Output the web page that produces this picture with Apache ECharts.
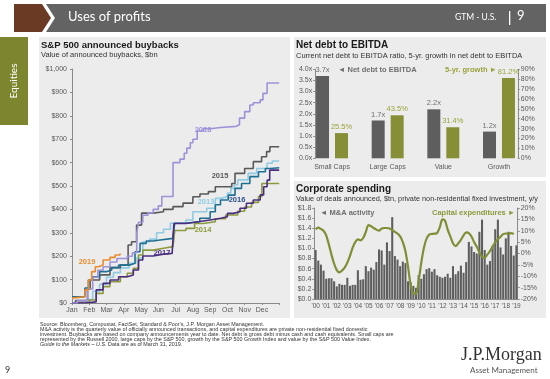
<!DOCTYPE html>
<html><head><meta charset="utf-8">
<script src="https://cdn.jsdelivr.net/npm/echarts@6/dist/echarts.min.js"></script>
<style>html,body{margin:0;padding:0;background:#fff;}#c{width:550px;height:379px;}</style>
</head><body><div id="c"></div>
<script>
// ---------- S&P 500 announced buybacks ($bn, cumulative YTD; x = month fraction) ----------
const months = ['Jan','Feb','Mar','Apr','May','Jun','Jul','Aug','Sep','Oct','Nov','Dec'];
const buyback2013 = [[0,0],[0.9,15],[1.2,50],[1.6,80],[2.0,110],[2.4,130],[2.8,150],[3.3,170],[3.7,192],[4.1,262],[4.5,273],[4.9,300],[5.3,315],[5.7,341],[6.6,355],[7.0,390],[7.8,405],[8.3,447],[8.6,454],[9.0,470],[9.2,490],[9.4,504],[9.6,526],[10.2,554],[10.7,575],[11.3,597],[11.6,607],[12,607]];
const buyback2014 = [[0,0],[1.0,13],[1.4,41],[1.8,70],[2.2,91],[2.8,112],[3.2,127],[3.55,148],[3.85,205],[4.1,226],[4.7,234],[5.3,241],[5.85,248],[5.95,310],[6.6,319],[7.1,340],[7.6,347],[8.3,360],[8.9,376],[9.6,392],[10.0,410],[10.4,430],[10.8,455],[11.0,511],[12,514]];
const buyback2015 = [[0,0],[0.2,10],[0.9,60],[1.05,98],[1.6,120],[2.2,151],[2.8,162],[3.25,248],[3.45,262],[3.74,333],[4.03,384],[4.7,390],[5.3,400],[5.85,412],[6.43,427],[7.0,454],[7.41,466],[7.9,476],[8.3,497],[9.25,511],[9.44,554],[10.0,575],[10.5,604],[10.98,625],[11.27,647],[11.46,668],[12,668]];
const buyback2016 = [[0,27],[0.75,64],[0.95,98],[1.2,112],[1.6,134],[2.0,141],[2.3,151],[2.7,162],[3.35,170],[3.65,219],[3.94,255],[4.3,265],[4.7,269],[5.1,276],[5.85,286],[5.95,341],[6.6,347],[7.4,362],[8.0,390],[8.3,420],[8.6,440],[9.05,461],[9.44,490],[9.82,511],[10.3,540],[10.8,561],[11.2,575],[11.5,578],[12,578]];
const buyback2017 = [[0,0],[0.75,5],[1.4,56],[1.8,84],[2.2,98],[2.7,112],[3.2,120],[3.55,141],[3.85,184],[4.1,201],[4.7,209],[5.3,212],[5.8,219],[5.9,340],[6.6,348],[7.4,355],[8.0,362],[8.6,369],[9.0,383],[9.34,390],[9.73,405],[10.1,426],[10.5,440],[10.9,462],[11.1,497],[11.3,525],[11.45,568],[12,568]];
const buyback2018 = [[0,0],[0.3,10],[0.9,60],[1.2,110],[1.5,140],[1.8,155],[2.2,175],[2.6,190],[3.2,200],[3.5,215],[3.75,300],[3.85,345],[4.1,375],[4.4,385],[4.7,400],[5.0,415],[5.2,455],[5.85,600],[6.25,615],[6.5,640],[6.65,662],[6.85,685],[7.0,700],[7.25,735],[7.6,745],[8.0,750],[8.6,755],[9.5,762],[9.7,790],[10.0,818],[10.3,846],[10.5,856],[10.9,868],[11.06,896],[11.3,940],[12,940]];
const buyback2019 = [[0,21],[0.1,27],[0.75,56],[0.95,98],[1.14,134],[1.35,155],[1.54,162],[1.8,184],[2.2,195],[2.5,205],[2.78,212]];
const buybackYears = ['2013','2014','2015','2016','2017','2018','2019'];

// ---------- Net debt to EBITDA ----------
const debtCategories = ['Small Caps','Large Caps','Value','Growth'];
const netDebtRatio = [3.7, 1.7, 2.2, 1.2];
const debtGrowth5y = [25.5, 43.5, 31.4, 81.2];

// ---------- Corporate spending (quarterly, 2000Q1 - 2019Q1) ----------
const spendYears = ["'00","'01","'02","'03","'04","'05","'06","'07","'08","'09","'10","'11","'12","'13","'14","'15","'16","'17","'18","'19"];
const maActivity = [
 0.97,0.76,0.68,0.56, 0.40,0.41,0.41,0.35, 0.25,0.30,0.28,0.28, 0.42,0.26,0.28,0.28,
 0.57,0.38,0.39,0.65, 0.55,0.62,0.58,0.73, 0.98,0.96,0.68,1.12, 0.95,1.62,0.85,0.78,
 0.65,0.74,0.71,0.35, 0.33,0.26,0.22,0.47, 0.40,0.49,0.59,0.61, 0.54,0.59,0.47,0.44,
 0.42,0.44,0.50,0.42, 0.65,0.49,0.55,0.66, 0.52,0.73,1.13,1.04, 0.93,0.90,1.33,1.57,
 0.97,0.68,0.75,1.05, 1.38,1.57,1.02,0.88, 1.20,1.33,1.05,0.86, 1.06];
const capex = [
 10.6,11.4,10.8,10.0, 8.0,4.0,-0.5,-4.5, -7.3,-8.3,-7.5,-6.2, -4.0,-1.0,2.5,5.0,
 6.2,5.8,6.8,9.5, 12.5,12.0,11.2,10.5, 10.0,11.0,11.2,11.2, 11.0,10.3,9.5,8.8,
 7.5,5.0,1.0,-6.0, -14.0,-17.5,-17.8,-12.0, -4.0,2.5,6.5,8.3, 8.6,8.7,9.0,11.5,
 15.0,14.4,10.5,7.5, 4.5,3.2,4.5,6.0, 8.0,9.3,9.0,7.5, 5.0,3.0,0.5,-1.5,
 -1.8,-0.5,1.0,3.0, 5.0,6.2,7.4,8.5, 8.8,8.6,9.0,8.5, null];

const quarterCats = [];
spendYears.forEach(y => { for (let q = 1; q <= 4; q++) quarterCats.push(y + ' Q' + q); });
quarterCats.length = maActivity.length;

const FONT = 'Liberation Sans';
const AX = '#595959';
const lineColors = {'2013':'#8fcbe3','2014':'#8c9a3e','2015':'#595959','2016':'#1f6f93','2017':'#4a2d7f','2018':'#9d92d8','2019':'#e98b2d'};
const buybackData = {'2013':buyback2013,'2014':buyback2014,'2015':buyback2015,'2016':buyback2016,'2017':buyback2017,'2018':buyback2018,'2019':buyback2019};
const OLIVE = '#878f36';
const GRAY = '#5e5e5e';

function axisCommon(extra) {
  return Object.assign({
    axisLine: {show: true, lineStyle: {color: '#8a8a8a', width: 1}},
    axisTick: {show: true, length: 2, lineStyle: {color: '#8a8a8a'}},
    splitLine: {show: false},
    axisLabel: {fontFamily: FONT, fontSize: 7, color: AX, margin: 3}
  }, extra);
}

const buybackSeries = buybackYears.map(y => ({
  type: 'line', name: y, xAxisIndex: 0, yAxisIndex: 0, step: 'end',
  showSymbol: false, data: buybackData[y],
  lineStyle: {color: lineColors[y], width: 1.6}, z: (y === '2019' ? 10 : 3)
}));

function txt(x, y, text, size, color, opts) {
  return {type: 'text', left: x, top: y, silent: true,
    style: Object.assign({text: text, fontFamily: FONT, fontSize: size, fill: color}, opts || {})};
}
function ctxt(x, y, text, size, color, opts) {
  return {type: 'text', x: x, y: y, silent: true,
    style: Object.assign({text: text, fontFamily: FONT, fontSize: size, fill: color, align: 'center', verticalAlign: 'middle'}, opts || {})};
}

const FN = 5.4;
const graphics = [
  // panels
  {type: 'rect', shape: {x: 39, y: 37, width: 251, height: 281}, style: {fill: '#ececec'}, z: -10},
  {type: 'rect', shape: {x: 294, y: 37, width: 252, height: 140}, style: {fill: '#ececec'}, z: -10},
  {type: 'rect', shape: {x: 294, y: 181, width: 252, height: 137}, style: {fill: '#ececec'}, z: -10},
  // header
  {type: 'polygon', shape: {points: [[14,4],[42,4],[51,18],[42,32],[14,32]]}, style: {fill: '#6b3a24'}},
  {type: 'polygon', shape: {points: [[46,4],[546,4],[546,32],[46,32],[55,18]]}, style: {fill: '#636363'}},
  txt(68, 10, 'Uses of profits', 13, '#ffffff', {fontFamily: 'Lato'}),
  txt(455, 13, 'GTM - U.S.', 8.5, '#ffffff', {fontFamily: 'Lato'}),
  {type: 'rect', shape: {x: 509, y: 11, width: 1.3, height: 14}, style: {fill: '#ffffff'}},
  txt(517, 9, '9', 13, '#ffffff', {fontFamily: 'Lato'}),
  // sidebar
  {type: 'rect', shape: {x: 0, y: 37, width: 28, height: 88}, style: {fill: '#7d852f'}},
  {type: 'text', x: 14, y: 81, rotation: Math.PI / 2, silent: true,
    style: {text: 'Equities', fontFamily: 'Lato', fontSize: 10, fill: '#ffffff', align: 'center', verticalAlign: 'middle'}},
  // buyback titles
  txt(41, 40, 'S&P 500 announced buybacks', 9.5, '#1a1a1a', {fontWeight: 'bold'}),
  txt(41, 51, 'Value of announced buybacks, $bn', 7.5, '#333'),
  // buyback year labels
  ctxt(203, 130, '2018', 7.5, lineColors['2018'], {fontWeight: 'bold'}),
  ctxt(220, 176, '2015', 7.5, '#595959', {fontWeight: 'bold'}),
  ctxt(206, 202, '2013', 7.5, lineColors['2013'], {fontWeight: 'bold'}),
  ctxt(237, 200, '2016', 7.5, '#2d4f8a', {fontWeight: 'bold'}),
  ctxt(203, 230, '2014', 7.5, lineColors['2014'], {fontWeight: 'bold'}),
  ctxt(162, 253, '2017', 7.5, lineColors['2017'], {fontWeight: 'bold'}),
  ctxt(87, 262, '2019', 7.5, lineColors['2019'], {fontWeight: 'bold'}),
  // net debt titles
  txt(296, 40, 'Net debt to EBITDA', 10, '#1a1a1a', {fontWeight: 'bold'}),
  txt(296, 52, 'Current net debt to EBITDA ratio, 5-yr. growth in net debt to EBITDA', 7.5, '#333'),
  txt(338, 66, '\u25C4 Net debt to EBITDA', 7.5, '#6e6e6e', {fontWeight: 'bold'}),
  txt(445, 66, '5-yr. growth \u25BA', 7.5, '#9aa33c', {fontWeight: 'bold'}),
  // corporate spending titles
  txt(296, 184, 'Corporate spending', 10, '#1a1a1a', {fontWeight: 'bold'}),
  txt(296, 195, 'Value of deals announced, $tn, private non-residential fixed investment, y/y', 7.3, '#333'),
  txt(320, 209, '\u25C4 M&A activity', 7.5, '#6e6e6e', {fontWeight: 'bold'}),
  txt(432, 209, 'Capital expenditures \u25BA', 7.5, '#8c9a3e', {fontWeight: 'bold'}),
  // footnotes
  txt(40, 322, 'Source: Bloomberg, Compustat, FactSet, Standard & Poor\'s, J.P. Morgan Asset Management.', FN, '#333'),
  txt(40, 327, 'M&A activity is the quarterly value of officially announced transactions, and capital expenditures are private non-residential fixed domestic', FN, '#333'),
  txt(40, 332, 'investment. Buybacks are based on company announcements year to date. Net debt is gross debt minus cash and cash equivalents. Small caps are', FN, '#333'),
  txt(40, 337, 'represented by the Russell 2000, large caps by the S&P 500, growth by the S&P 500 Growth Index and value by the S&P 500 Value Index.', FN, '#333'),
  {type: 'text', left: 40, top: 342, silent: true, style: {
    text: '{i|Guide to the Markets \u2013 U.S.} Data are as of March 31, 2019.',
    fontFamily: FONT, fontSize: FN, fill: '#333',
    rich: {i: {fontFamily: FONT, fontSize: FN, fontStyle: 'italic', fill: '#333'}}}},
  txt(5, 366, '9', 9, '#333', {fontFamily: 'Lato'}),
  txt(461, 346, 'J.P.Morgan', 18, '#333', {fontFamily: 'Liberation Serif'}),
  txt(470, 366, 'Asset Management', 8, '#555', {fontFamily: 'Lato'})
];

const option = {
  animation: false,
  backgroundColor: '#ffffff',
  textStyle: {fontFamily: FONT},
  graphic: graphics,
  grid: [
    {left: 72, top: 69, width: 207.2, height: 234},
    {left: 304.2, top: 69.3, width: 222.6, height: 89},
    {left: 314.3, top: 208, width: 203.4, height: 91}
  ],
  xAxis: [
    axisCommon({type: 'value', gridIndex: 0, min: 0, max: 12, interval: 1,
      axisLabel: {fontFamily: FONT, fontSize: 7, color: AX, margin: 4,
        formatter: v => (v >= 0 && v < 12 ? months[v] : '')}}),
    axisCommon({type: 'category', gridIndex: 1, data: debtCategories,
      axisTick: {show: false}, axisLine: {show: false},
      axisLabel: {fontFamily: FONT, fontSize: 7, color: AX, margin: 5}}),
    axisCommon({type: 'category', gridIndex: 2, data: quarterCats,
      axisTick: {show: false},
      axisLabel: {fontFamily: FONT, fontSize: 6.5, color: AX, margin: 4, interval: 3,
        formatter: v => v.split(' ')[0]}})
  ],
  yAxis: [
    axisCommon({type: 'value', gridIndex: 0, min: 0, max: 1000, interval: 100, offset: 2,
      axisLabel: {fontFamily: FONT, fontSize: 7, color: AX, margin: 3,
        formatter: v => '$' + v.toLocaleString('en-US')}}),
    axisCommon({type: 'value', gridIndex: 1, min: 0, max: 4, interval: 0.5, position: 'left', offset: -11,
      axisLabel: {fontFamily: FONT, fontSize: 7, color: AX, margin: 3, formatter: v => v.toFixed(1) + 'x'}}),
    axisCommon({type: 'value', gridIndex: 1, min: 0, max: 90, interval: 10, position: 'right', offset: -9,
      axisLabel: {fontFamily: FONT, fontSize: 7, color: AX, margin: 3, formatter: v => v + '%'}}),
    axisCommon({type: 'value', gridIndex: 2, min: 0, max: 1.8, interval: 0.2, position: 'left',
      axisLabel: {fontFamily: FONT, fontSize: 7, color: AX, margin: 3, formatter: v => '$' + v.toFixed(1)}}),
    axisCommon({type: 'value', gridIndex: 2, min: -20, max: 20, interval: 5, position: 'right',
      axisLabel: {fontFamily: FONT, fontSize: 7, color: AX, margin: 3, formatter: v => v + '%'}})
  ],
  series: buybackSeries.concat([
    {type: 'bar', xAxisIndex: 1, yAxisIndex: 1, data: netDebtRatio, barWidth: 13, barGap: '46%',
      itemStyle: {color: GRAY},
      label: {show: true, position: 'top', distance: 2, fontFamily: FONT, fontSize: 7.5, color: '#6e6e6e',
        formatter: p => p.value.toFixed(1) + 'x'}},
    {type: 'bar', xAxisIndex: 1, yAxisIndex: 2, data: debtGrowth5y, barWidth: 13, barGap: '46%',
      itemStyle: {color: OLIVE},
      label: {show: true, position: 'top', distance: 2, fontFamily: FONT, fontSize: 7.5, color: '#9aa33c',
        formatter: p => p.value.toFixed(1) + '%'}},
    {type: 'bar', xAxisIndex: 2, yAxisIndex: 3, data: maActivity, barCategoryGap: '22%',
      itemStyle: {color: GRAY}},
    {type: 'line', xAxisIndex: 2, yAxisIndex: 4, data: capex, smooth: 0.3, showSymbol: false,
      lineStyle: {color: '#7f8f35', width: 2.2}, z: 5}
  ])
};

const chart = echarts.init(document.getElementById('c'), null, {renderer: 'canvas'});
chart.setOption(option);
</script>
</body></html>
